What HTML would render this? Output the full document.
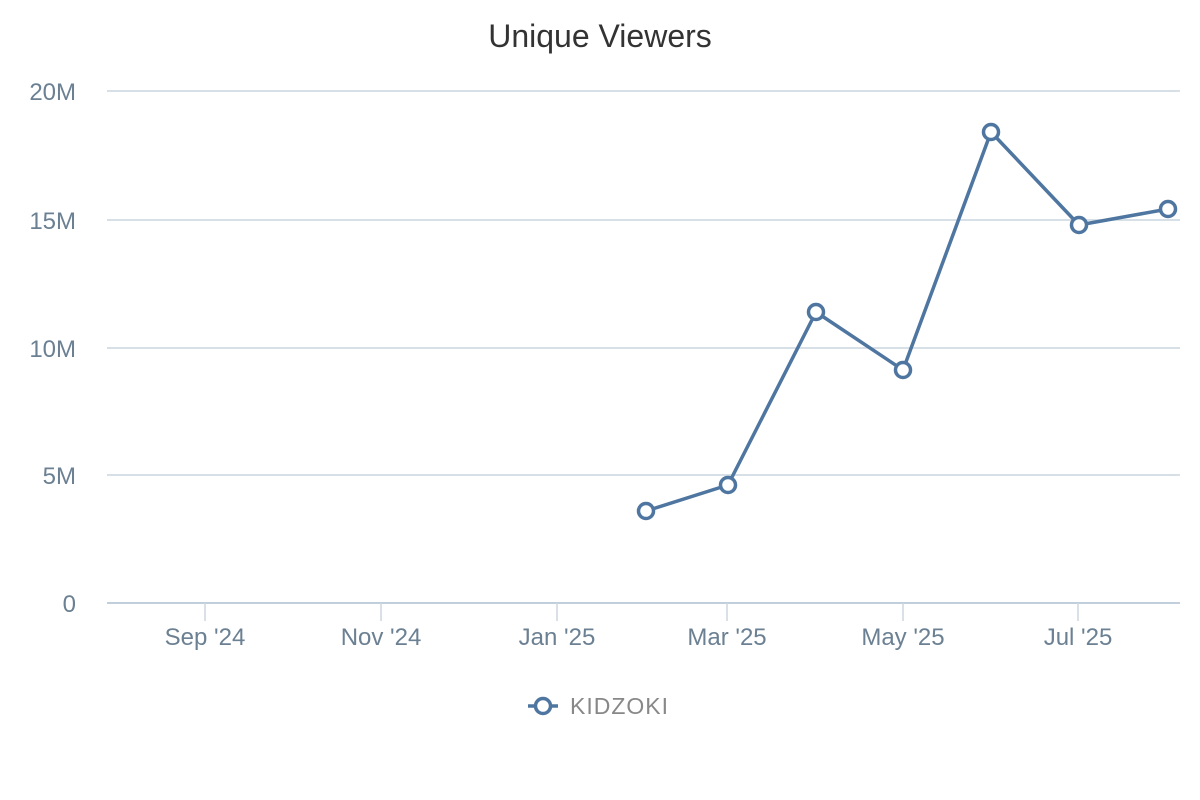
<!DOCTYPE html>
<html><head><meta charset="utf-8"><style>html,body{margin:0;padding:0;background:#fff;}svg{display:block}</style></head>
<body>
<svg width="1200" height="800" xmlns="http://www.w3.org/2000/svg" font-family="Liberation Sans, sans-serif">
<rect width="1200" height="800" fill="#fff"/>
<text x="600" y="47" text-anchor="middle" font-size="32" fill="#333">Unique Viewers</text>
<g stroke="#ccd6df" stroke-width="1.5">
<line x1="107" y1="91" x2="1180" y2="91"/>
<line x1="107" y1="220" x2="1180" y2="220"/>
<line x1="107" y1="348" x2="1180" y2="348"/>
<line x1="107" y1="475" x2="1180" y2="475"/>
<line x1="107" y1="603" x2="1180" y2="603" stroke="#c0cfdb" stroke-width="2"/>
<line x1="205" y1="603" x2="205" y2="621"/>
<line x1="381" y1="603" x2="381" y2="621"/>
<line x1="557" y1="603" x2="557" y2="621"/>
<line x1="727" y1="603" x2="727" y2="621"/>
<line x1="903" y1="603" x2="903" y2="621"/>
<line x1="1078" y1="603" x2="1078" y2="621"/>
</g>
<g font-size="24" fill="#6b8092" text-anchor="end">
<text x="76" y="100">20M</text>
<text x="76" y="229">15M</text>
<text x="76" y="357">10M</text>
<text x="76" y="484">5M</text>
<text x="76" y="612">0</text>
</g>
<g font-size="24" fill="#6b8092" text-anchor="middle">
<text x="205" y="645">Sep '24</text>
<text x="381" y="645">Nov '24</text>
<text x="557" y="645">Jan '25</text>
<text x="727" y="645">Mar '25</text>
<text x="903" y="645">May '25</text>
<text x="1078" y="645">Jul '25</text>
</g>
<polyline points="646,511 728,485 816,312 903,370 991,132 1079,225 1168,209" fill="none" stroke="#4e76a0" stroke-width="3.5" stroke-linejoin="round"/>
<g fill="#fff" stroke="#4e76a0" stroke-width="3.5">
<circle cx="646" cy="511" r="7.5"/>
<circle cx="728" cy="485" r="7.5"/>
<circle cx="816" cy="312" r="7.5"/>
<circle cx="903" cy="370" r="7.5"/>
<circle cx="991" cy="132" r="7.5"/>
<circle cx="1079" cy="225" r="7.5"/>
<circle cx="1168" cy="209" r="7.5"/>
</g>
<line x1="528" y1="706" x2="558" y2="706" stroke="#4e76a0" stroke-width="3.5"/>
<circle cx="543" cy="706" r="7.5" fill="#fff" stroke="#4e76a0" stroke-width="3.5"/>
<text x="570" y="714" font-size="23" fill="#888" font-weight="300" letter-spacing="1">KIDZOKI</text>
</svg>
</body></html>
